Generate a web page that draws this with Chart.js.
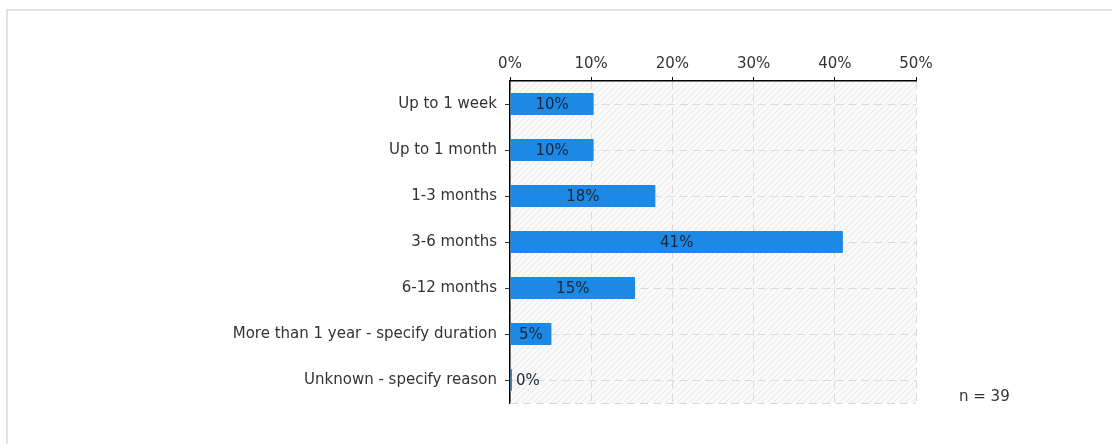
<!DOCTYPE html>
<html>
<head>
<meta charset="utf-8">
<script src="https://cdn.jsdelivr.net/npm/chart.js@4"></script>
<style>
  body { margin: 0; background: #fff; font-family: "DejaVu Sans", Verdana, sans-serif; }
  #frame { position: absolute; left: 6px; top: 9px; width: 1120px; height: 460px; border: 2px solid #e2e2e2; }
  #chartCanvas { position: absolute; left: 0; top: 0; }
  #nLabel { position: absolute; left: 959px; top: 387px; font-size: 15px; color: #333; }
</style>
</head>
<body>
<div id="frame"></div>
<canvas id="chartCanvas" width="1112" height="444"></canvas>
<div id="nLabel">n = 39</div>
<script>
const categories = [
  'Up to 1 week',
  'Up to 1 month',
  '1-3 months',
  '3-6 months',
  '6-12 months',
  'More than 1 year - specify duration',
  'Unknown - specify reason'
];
const shares = [10.3, 10.3, 17.9, 41.0, 15.4, 5.1, 0];
const tickValues = [0, 10, 20, 30, 40, 50];

window.addEventListener("DOMContentLoaded", () => {
  const ctx = document.getElementById('chartCanvas').getContext('2d');
  const fontFamily = '"DejaVu Sans", Verdana, sans-serif';

  // hatched plot background
  function makeHatch() {
    const c = document.createElement('canvas');
    c.width = 6; c.height = 6;
    const g = c.getContext('2d');
    g.fillStyle = '#fafafa';
    g.fillRect(0, 0, 6, 6);
    g.strokeStyle = '#e8e8e8';
    g.lineWidth = 1;
    g.beginPath();
    g.moveTo(0, 6); g.lineTo(6, 0);
    g.moveTo(-1, 1); g.lineTo(1, -1);
    g.moveTo(5, 7); g.lineTo(7, 5);
    g.stroke();
    return ctx.createPattern(c, 'repeat');
  }
  const hatch = makeHatch();

  const backdrop = {
    id: 'backdrop',
    beforeDraw(chart) {
      const a = chart.chartArea;
      const c = chart.ctx;
      c.save();
      c.fillStyle = hatch;
      c.fillRect(a.left, a.top, a.right - a.left, a.bottom - a.top);
      c.restore();
    },
    afterDraw(chart) {
      const a = chart.chartArea;
      const c = chart.ctx;
      c.save();
      c.strokeStyle = '#d8d8d8';
      c.setLineDash([8, 5]);
      c.beginPath();
      c.moveTo(a.left, a.bottom + 0.5);
      c.lineTo(a.right, a.bottom + 0.5);
      c.stroke();
      c.restore();
    }
  };

  // value labels on the bars
  const barLabels = {
    id: 'barLabels',
    afterDatasetsDraw(chart) {
      const c = chart.ctx;
      const meta = chart.getDatasetMeta(0);
      c.save();
      c.font = '15px ' + fontFamily;
      c.fillStyle = '#16263a';
      c.textBaseline = 'middle';
      meta.data.forEach((bar, i) => {
        const text = Math.round(shares[i]) + '%';
        const w = c.measureText(text).width;
        const left = bar.base;
        const right = bar.x;
        if (right - left > w + 6) {
          c.textAlign = 'center';
          c.fillText(text, (left + right) / 2, bar.y + 1);
        } else {
          c.textAlign = 'left';
          c.fillText(text, right + 4, bar.y + 1);
        }
      });
      c.restore();
    }
  };

  new Chart(ctx, {
    type: 'bar',
    data: {
      labels: categories,
      datasets: [{
        data: shares,
        backgroundColor: '#1e88e5',
        borderRadius: 1,
        borderSkipped: false,
        minBarLength: 2,
        barPercentage: 0.48,
        categoryPercentage: 1
      }]
    },
    options: {
      indexAxis: 'y',
      responsive: false,
      animation: false,
      layout: { padding: { top: 0, left: 0, right: 196, bottom: 41 } },
      plugins: { legend: { display: false }, tooltip: { enabled: false } },
      scales: {
        x: {
          position: 'top',
          min: 0,
          max: 50,
          afterBuildTicks: (axis) => { axis.ticks = tickValues.map(v => ({ value: v })); },
          afterFit: (axis) => { axis.height = 81; },
          ticks: {
            callback: (v) => v + '%',
            color: '#333',
            font: { size: 15, family: fontFamily },
            padding: 4,
            maxRotation: 0
          },
          grid: {
            color: '#dadada',
            tickColor: '#000',
            tickBorderDash: [],
            tickLength: 4,
            drawTicks: true
          },
          border: { color: '#000', width: 1.5, dash: [8, 5] }
        },
        y: {
          afterFit: (axis) => { axis.width = 510; },
          ticks: {
            color: '#333',
            font: { size: 15, family: fontFamily },
            padding: 8
          },
          grid: {
            offset: false,
            color: '#dadada',
            tickColor: '#333',
            tickBorderDash: [],
            tickLength: 5
          },
          border: { color: '#000', width: 1.5, dash: [8, 5] }
        }
      }
    },
    plugins: [backdrop, barLabels]
  });
});
</script>
</body>
</html>
